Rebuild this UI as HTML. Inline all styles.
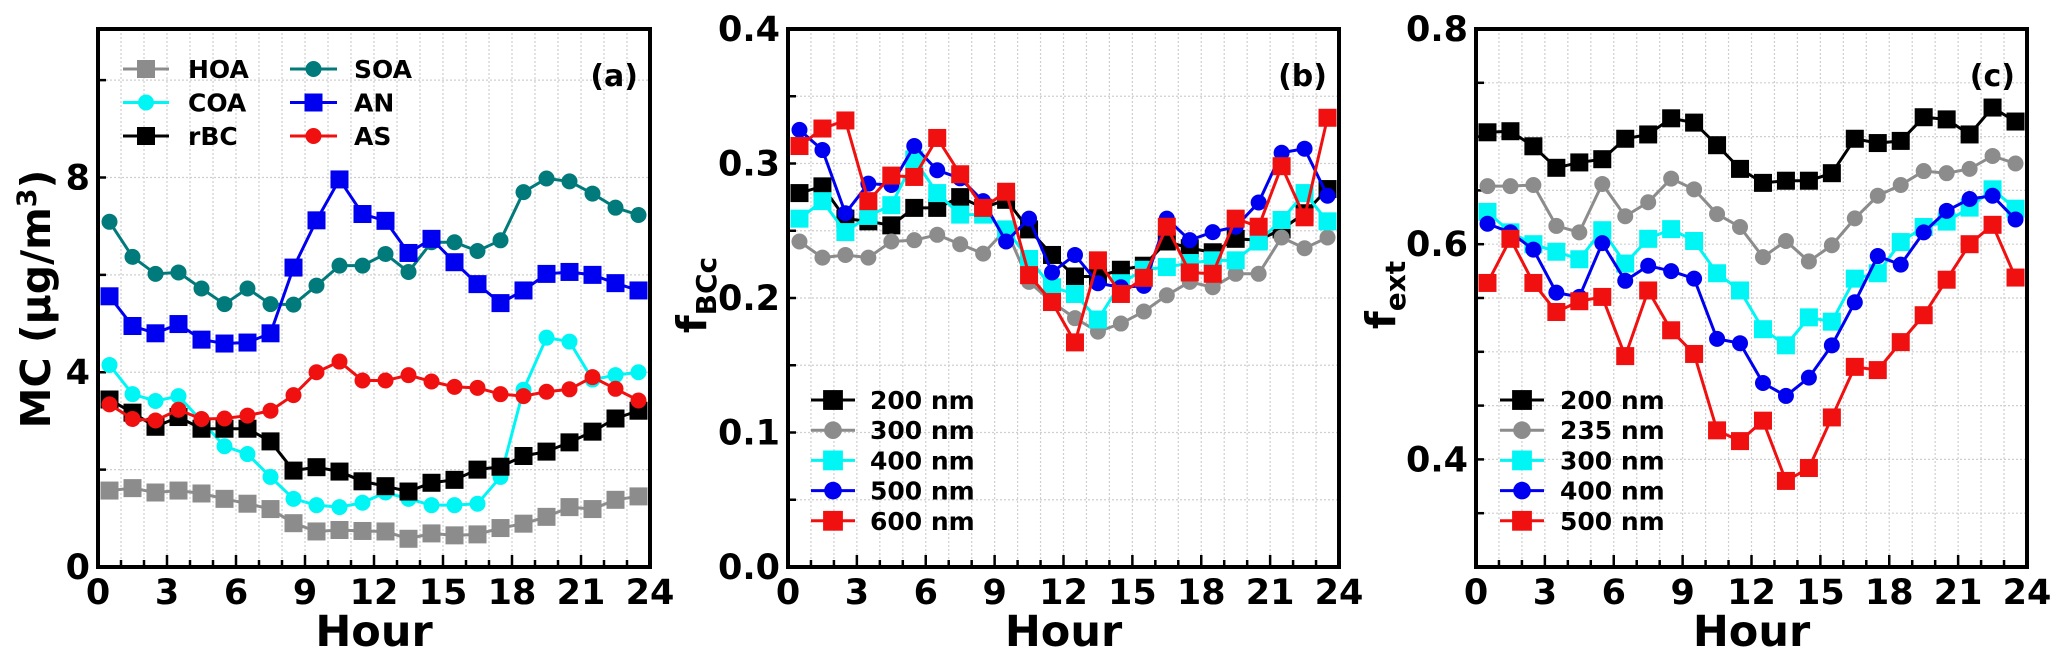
<!DOCTYPE html>
<html><head><meta charset="utf-8"><style>
html,body{margin:0;padding:0;background:#fff;}
svg{display:block;font-family:"DejaVu Sans","Liberation Sans",sans-serif;font-weight:bold;}
</style></head><body>
<svg id="fig" width="2067" height="661" viewBox="0 0 2067 661"></svg>
<script>
const hours=[0.5,1.5,2.5,3.5,4.5,5.5,6.5,7.5,8.5,9.5,10.5,11.5,12.5,13.5,14.5,15.5,16.5,17.5,18.5,19.5,20.5,21.5,22.5,23.5];
const xTicks=[0,3,6,9,12,15,18,21,24];
// Panel a
const aHOA=[1.57,1.62,1.53,1.57,1.51,1.40,1.30,1.19,0.90,0.73,0.76,0.74,0.73,0.58,0.69,0.65,0.67,0.80,0.89,1.03,1.23,1.19,1.38,1.45];
const aCOA=[4.15,3.55,3.41,3.51,3.0,2.48,2.32,1.85,1.40,1.27,1.23,1.32,1.53,1.40,1.27,1.27,1.30,1.85,3.64,4.71,4.63,3.85,3.94,4.00];
const aRBC=[3.44,3.17,2.88,3.08,2.84,2.84,2.84,2.58,1.98,2.05,1.96,1.76,1.66,1.55,1.73,1.79,2.00,2.06,2.28,2.37,2.56,2.78,3.05,3.21];
const aSOA=[7.09,6.37,6.02,6.05,5.72,5.40,5.72,5.40,5.39,5.78,6.19,6.19,6.43,6.06,6.67,6.67,6.49,6.71,7.70,7.98,7.92,7.67,7.38,7.23];
const aAN=[5.56,4.95,4.80,4.99,4.67,4.59,4.61,4.80,6.15,7.12,7.96,7.25,7.11,6.45,6.74,6.26,5.81,5.42,5.68,6.02,6.06,6.00,5.83,5.68];
const aAS=[3.34,3.04,3.01,3.23,3.04,3.05,3.11,3.21,3.53,4.0,4.22,3.83,3.83,3.94,3.81,3.70,3.68,3.55,3.51,3.60,3.65,3.90,3.66,3.42];
const aYTicks=[0,4,8];
// Panel b
const b200=[0.278,0.283,0.259,0.257,0.254,0.267,0.267,0.275,0.267,0.273,0.251,0.232,0.216,0.216,0.221,0.224,0.242,0.237,0.234,0.244,0.243,0.251,0.263,0.281];
const b300=[0.242,0.230,0.232,0.230,0.242,0.243,0.247,0.240,0.233,0.251,0.212,0.197,0.185,0.175,0.181,0.190,0.202,0.212,0.208,0.218,0.218,0.245,0.237,0.245];
const b400=[0.259,0.272,0.249,0.261,0.269,0.303,0.278,0.262,0.262,0.251,0.229,0.208,0.203,0.184,0.211,0.221,0.223,0.226,0.228,0.228,0.242,0.258,0.278,0.257];
const b500=[0.325,0.310,0.263,0.285,0.284,0.313,0.295,0.289,0.272,0.242,0.259,0.219,0.232,0.211,0.208,0.209,0.259,0.243,0.249,0.253,0.271,0.308,0.311,0.276];
const b600=[0.313,0.326,0.332,0.272,0.291,0.290,0.319,0.292,0.267,0.279,0.217,0.197,0.167,0.228,0.203,0.215,0.253,0.219,0.218,0.259,0.253,0.298,0.260,0.334];
const bYTicks=["0.0","0.1","0.2","0.3","0.4"];
// Panel c
const c200=[0.704,0.705,0.691,0.671,0.676,0.679,0.698,0.702,0.717,0.713,0.692,0.670,0.657,0.659,0.659,0.666,0.698,0.694,0.696,0.718,0.716,0.702,0.727,0.714];
const c235=[0.654,0.654,0.655,0.617,0.611,0.656,0.626,0.639,0.661,0.651,0.628,0.616,0.588,0.603,0.584,0.599,0.624,0.645,0.655,0.668,0.666,0.670,0.682,0.675];
const c300=[0.630,0.611,0.600,0.593,0.586,0.613,0.582,0.605,0.614,0.603,0.573,0.557,0.521,0.506,0.532,0.528,0.568,0.573,0.602,0.616,0.621,0.634,0.651,0.633];
const c400=[0.619,0.611,0.595,0.555,0.551,0.601,0.566,0.580,0.575,0.568,0.512,0.508,0.471,0.459,0.476,0.506,0.546,0.589,0.581,0.611,0.631,0.642,0.645,0.623];
const c500=[0.564,0.605,0.564,0.537,0.547,0.551,0.496,0.557,0.520,0.498,0.427,0.417,0.436,0.380,0.392,0.439,0.486,0.483,0.509,0.534,0.567,0.600,0.618,0.569];
const cYTicks=["0.4","0.6","0.8"];

const NS="http://www.w3.org/2000/svg";
const svg=document.getElementById('fig');
function el(tag,attrs,parent){const e=document.createElementNS(NS,tag);for(const k in attrs)e.setAttribute(k,attrs[k]);(parent||svg).appendChild(e);return e;}

const TOP=29,BOT=567;
function panel(opt){
  const g=el('g',{});
  
  
  const L=opt.L,R=opt.R;
  const xs=h=>L+(h/24)*(R-L);
  const ys=v=>BOT-(v-opt.ymin)/(opt.ymax-opt.ymin)*(BOT-TOP);
  for(let h=1;h<24;h++){const l=el('line',{x1:xs(h),x2:xs(h),y1:TOP,y2:BOT,stroke:'#cfcfcf','stroke-width':1.2,'stroke-dasharray':'2,2'},g);
    }
  for(let v=opt.ymin+opt.minor;v<opt.ymax-1e-9;v+=opt.minor){const y=ys(v);const l=el('line',{x1:L,x2:R,y1:y,y2:y,stroke:'#cfcfcf','stroke-width':1.2,'stroke-dasharray':'2,2'},g);
    
    el('line',{x1:L,x2:L+8,y1:y,y2:y,stroke:'#000','stroke-width':2.5},g);}
  for(let h=1;h<24;h++){el('line',{x1:xs(h),x2:xs(h),y1:BOT,y2:BOT-(h%3==0?12:7),stroke:'#000','stroke-width':2.5},g);}
  xTicks.forEach(t=>{const tx=el('text',{x:xs(t),y:604,'font-size':35,'text-anchor':'middle'},g);tx.textContent=t;
    });
  opt.yTicks.forEach(t=>{const tx=el('text',{x:L-8,y:ys(+t)+12,'font-size':35,'text-anchor':'end'},g);tx.textContent=t;
    });
  const xl=el('text',{x:(L+R)/2,y:646,'font-size':43,'text-anchor':'middle'},g);xl.textContent='Hour';
  
  opt.series.forEach(s=>{
    const sg=el('g',{},g);
    
    const pts=s.data.map((v,i)=>xs(hours[i])+','+ys(v)).join(' ');
    el('polyline',{points:pts,fill:'none',stroke:s.color,'stroke-width':3},sg);
    s.data.forEach((v,i)=>{const m=marker(sg,s.shape,xs(hours[i]),ys(v),s.color,s.size||1);
      });
  });
  const fr=el('rect',{x:L,y:TOP,width:R-L,height:BOT-TOP,fill:'none',stroke:'#000','stroke-width':4},g);
  
  const pl=el('text',{x:R-12,y:86,'font-size':30,'text-anchor':'end'},g);pl.textContent=opt.label;
  
  return {g,xs,ys};
}
function marker(p,shape,x,y,c,sc){
  if(shape==='s'){const a=9*sc;return el('rect',{x:x-a,y:y-a,width:2*a,height:2*a,fill:c},p);}
  return el('circle',{cx:x,cy:y,r:8*sc,fill:c},p);
}
function legendEntry(p,x1,x2,tx,y,shape,c,label,sc){
  const g=el('g',{},p);
  
  el('line',{x1:x1,x2:x2,y1:y,y2:y,stroke:c,'stroke-width':3},g);
  marker(g,shape,(x1+x2)/2,y,c,sc);
  const t=el('text',{x:tx,y:y+9,'font-size':25},g);t.textContent=label;
}

const GRAY='#8c8c8c',CY='#00f5f5',TEAL='#007a7a',BL='#0000f0',RD='#f01010';
panel({name:'panel-a',L:98,R:650,ymin:0,ymax:11.05,minor:2,yTicks:aYTicks,label:'(a)',series:[
 {key:'hoa',data:aHOA,color:GRAY,shape:'s'},{key:'coa',data:aCOA,color:CY,shape:'c'},
 {key:'rbc',data:aRBC,color:'#000',shape:'s'},{key:'soa',data:aSOA,color:TEAL,shape:'c'},
 {key:'an',data:aAN,color:BL,shape:'s'},{key:'as',data:aAS,color:RD,shape:'c'}]});
const lgA=el('g',{});
[['HOA',GRAY,'s'],['COA',CY,'c'],['rBC','#000','s']].forEach((e,i)=>legendEntry(lgA,123,169,188,69+i*33.5,e[2],e[1],e[0],1));
[['SOA',TEAL,'c'],['AN',BL,'s'],['AS',RD,'c']].forEach((e,i)=>legendEntry(lgA,290,337,354,69+i*33.5,e[2],e[1],e[0],1));
const ya=el('text',{x:0,y:0,'font-size':41,'text-anchor':'middle',transform:'translate(50,299) rotate(-90)'});

ya.innerHTML='MC (µg/m<tspan dy="-14" font-size="27">3</tspan><tspan dy="14">)</tspan>';

panel({name:'panel-b',L:788,R:1339,ymin:0,ymax:0.4,minor:0.05,yTicks:bYTicks,label:'(b)',series:[
 {key:'200nm',data:b200,color:'#000',shape:'s'},{key:'300nm',data:b300,color:GRAY,shape:'c'},
 {key:'400nm',data:b400,color:CY,shape:'s'},{key:'500nm',data:b500,color:BL,shape:'c'},{key:'600nm',data:b600,color:RD,shape:'s'}]});
const lgB=el('g',{});
[['200 nm','#000','s'],['300 nm',GRAY,'c'],['400 nm',CY,'s'],['500 nm',BL,'c'],['600 nm',RD,'s']].forEach((e,i)=>legendEntry(lgB,811,855,870,400+i*30.2,e[2],e[1],e[0],1.1));
const yb=el('text',{x:0,y:0,'font-size':41,'text-anchor':'middle',transform:'translate(706,295) rotate(-90)'});

yb.innerHTML='f<tspan dy="10" font-size="28">BCc</tspan>';

panel({name:'panel-c',L:1476,R:2027,ymin:0.3,ymax:0.8,minor:0.05,yTicks:cYTicks,label:'(c)',series:[
 {key:'200nm',data:c200,color:'#000',shape:'s'},{key:'235nm',data:c235,color:GRAY,shape:'c'},
 {key:'300nm',data:c300,color:CY,shape:'s'},{key:'400nm',data:c400,color:BL,shape:'c'},{key:'500nm',data:c500,color:RD,shape:'s'}]});
const lgC=el('g',{});
[['200 nm','#000','s'],['235 nm',GRAY,'c'],['300 nm',CY,'s'],['400 nm',BL,'c'],['500 nm',RD,'s']].forEach((e,i)=>legendEntry(lgC,1500,1544,1560,400+i*30.2,e[2],e[1],e[0],1.1));
const yc=el('text',{x:0,y:0,'font-size':41,'text-anchor':'middle',transform:'translate(1395,295) rotate(-90)'});

yc.innerHTML='f<tspan dy="10" font-size="28">ext</tspan>';
</script>
</body></html>
